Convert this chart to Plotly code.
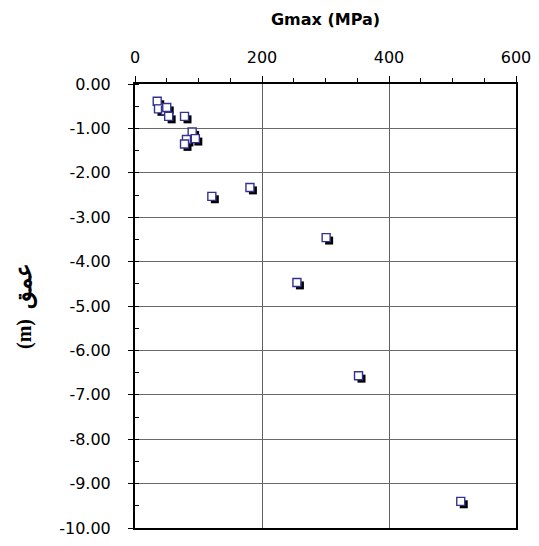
import plotly.graph_objects as go

# Data
gmax = [35, 37, 48, 50, 53, 78, 90, 95, 81, 78, 121, 181, 301, 255, 352, 513]
depth = [-0.39, -0.56, -0.60, -0.53, -0.73, -0.73, -1.08, -1.23, -1.25, -1.35,
         -2.53, -2.33, -3.46, -4.47, -6.57, -9.40]

x_ticks = [0, 200, 400, 600]
y_ticks = [0, -1, -2, -3, -4, -5, -6, -7, -8, -9, -10]
y_ticktext = ["%.2f" % v for v in y_ticks]

W, H = 539, 546
ML, MR, MT, MB = 135, 21, 84, 8
XR = (0, 600)
YR = (-10, 0)

# shadow offset: 3 px right/down, converted into data units
px_x = (XR[1] - XR[0]) / (W - ML - MR)
px_y = (YR[1] - YR[0]) / (H - MT - MB)
shadow_x = [g + 3 * px_x for g in gmax]
shadow_y = [d - 3 * px_y for d in depth]

fig = go.Figure()
fig.add_trace(go.Scatter(
    x=shadow_x, y=shadow_y, mode="markers",
    marker=dict(symbol="square", size=8, color="black", line=dict(width=0)),
    hoverinfo="skip", showlegend=False))
fig.add_trace(go.Scatter(
    x=gmax, y=depth, mode="markers",
    marker=dict(symbol="square", size=8, color="white",
                line=dict(width=1.4, color="#33338f")),
    showlegend=False))

font_main = dict(family="DejaVu Sans, Arial, sans-serif", size=16, color="black")

fig.update_layout(
    width=W, height=H,
    margin=dict(l=ML, r=MR, t=MT, b=MB),
    paper_bgcolor="white", plot_bgcolor="white",
    font=font_main,
    xaxis=dict(
        side="top", range=list(XR), tickvals=x_ticks,
        ticktext=[str(v) for v in x_ticks],
        ticks="outside", ticklen=6, tickwidth=1, tickcolor="black",
        minor=dict(dtick=50, ticks="outside", ticklen=4, tickcolor="black", showgrid=False),
        showgrid=True, gridcolor="#606060", gridwidth=1,
        showline=True, linecolor="black", linewidth=2, mirror=True,
        zeroline=False, tickfont=font_main, ticklabelstandoff=7,
        title=dict(text="<b>Gmax (MPa)</b>", font=dict(family="DejaVu Sans, Arial, sans-serif", size=16, color="black"), standoff=18),
    ),
    yaxis=dict(
        range=list(YR), tickvals=y_ticks, ticktext=y_ticktext,
        ticks="outside", ticklen=5, tickwidth=1, tickcolor="black",
        minor=dict(dtick=0.5, ticks="inside", ticklen=4, tickcolor="black", showgrid=False),
        showgrid=True, gridcolor="#6a6a6a", gridwidth=1.2,
        showline=True, linecolor="black", linewidth=2, mirror=True,
        zeroline=False, tickfont=font_main, ticklabelstandoff=14,
        title=dict(text="<b>(m)  <span style='font-size:23px'>عمق</span></b>",
                   font=dict(family="Times New Roman, Liberation Serif, DejaVu Serif, serif", size=20, color="black"), standoff=22),
    ),
)

fig.write_html("out.html")
